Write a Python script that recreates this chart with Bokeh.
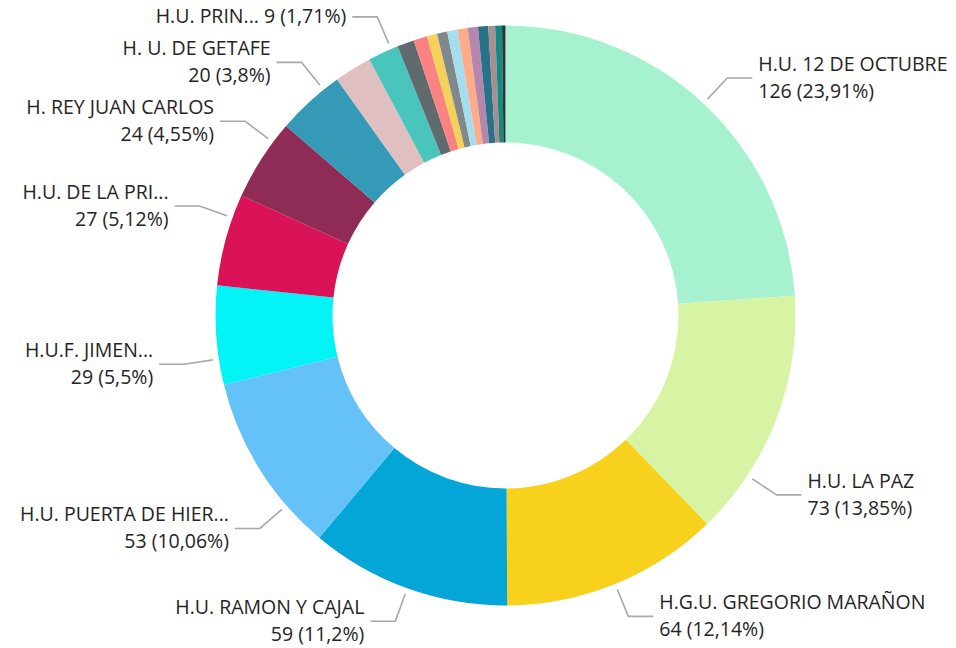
import math
from bokeh.plotting import figure
from bokeh.models import ColumnDataSource, Range1d
from bokeh.core.properties import value
from bokeh.embed import file_html
from bokeh.resources import INLINE

# ---------------- data ----------------
hospitals = [
    "H.U. 12 DE OCTUBRE", "H.U. LA PAZ", "H.G.U. GREGORIO MARAÑON",
    "H.U. RAMON Y CAJAL", "H.U. PUERTA DE HIERRO", "H.U.F. JIMENEZ DIAZ",
    "H.U. DE LA PRINCESA", "H. REY JUAN CARLOS", "H. U. DE GETAFE",
    "OTRO 1", "H.U. PRINCIPE DE ASTURIAS",
    "OTRO 2", "OTRO 3", "OTRO 4", "OTRO 5", "OTRO 6", "OTRO 7",
    "OTRO 8", "OTRO 9", "OTRO 10", "OTRO 11", "OTRO 12",
]
counts = [126, 73, 64, 59, 53, 29, 27, 24, 20,
          11, 9,
          5, 4, 3, 3, 3, 3, 3, 3, 2, 2, 1]
# labels shown on the chart (truncated as displayed); None = no label
shown_labels = [
    "H.U. 12 DE OCTUBRE", "H.U. LA PAZ", "H.G.U. GREGORIO MARAÑON",
    "H.U. RAMON Y CAJAL", "H.U. PUERTA DE HIER...", "H.U.F. JIMEN...",
    "H.U. DE LA PRI...", "H. REY JUAN CARLOS", "H. U. DE GETAFE",
    None, "H.U. PRIN...",
] + [None] * 11

# ---------------- styles / layout ----------------
colors = ["#A6F2D0", "#D7F4A5", "#F7D11B", "#04A5D7", "#64C2F9", "#03F3F7",
          "#DA1257", "#8E2C55", "#3599B8", "#DFBFBF", "#4AC5BB",
          "#5F6B6D", "#FB8281", "#F4D25A", "#7F898A", "#A4DDEE", "#FDAB89",
          "#B687AC", "#28738A", "#A78F8F", "#168980", "#293537"]
label_angle_shift = [0, 12.5, 0, 0, -9, -4.7, 4.5, 4.1, 3.5, 0, 1.7] + [0] * 11
single_line = [False] * 10 + [True] + [False] * 11
R_OUT, R_IN = 290, 173
R_L1, R_L2, H_LEN, GAP = 296, 325, 25, 6
FONT = "Open Sans"
FSIZE = "19.5px"
TXT = "#252423"
LEADER = "#A8A8A8"

W, H = 956, 648
CX, CY = 505, 315  # centre in page pixels

p = figure(width=W, height=H, output_backend="svg", toolbar_location=None,
           x_range=Range1d(-CX, W - CX), y_range=Range1d(CY - H, CY),
           min_border=0, outline_line_color=None, background_fill_color="white")
p.axis.visible = False
p.grid.visible = False

total = sum(counts)
starts, ends = [], []
acc = 0.0
for c in counts:
    a0 = acc / total * 360.0
    acc += c
    a1 = acc / total * 360.0
    starts.append(a0)
    ends.append(a1)

src = ColumnDataSource(dict(
    start=[math.radians(90 - e) for e in ends],
    end=[math.radians(90 - s) for s in starts],
    color=colors[:len(counts)],
))
p.annular_wedge(x=0, y=0, inner_radius=R_IN, outer_radius=R_OUT,
                start_angle="start", end_angle="end", color="color",
                direction="anticlock", line_color=None, source=src)


def fmt_pct(v):
    s = f"{v / total * 100:.2f}".rstrip("0").rstrip(".")
    return s.replace(".", ",")


lxs, lys = [], []
tx_r, ty_r, tt_r = [], [], []
tx_l, ty_l, tt_l = [], [], []
for i, lab in enumerate(shown_labels):
    if lab is None:
        continue
    mid = (starts[i] + ends[i]) / 2 + label_angle_shift[i]
    th = math.radians(mid)
    x1, y1 = R_L1 * math.sin(th), R_L1 * math.cos(th)
    x2, y2 = R_L2 * math.sin(th), R_L2 * math.cos(th)
    right = math.sin(th) > 0
    x3 = x2 + H_LEN if right else x2 - H_LEN
    lxs.append([x1, x2, x3])
    lys.append([y1, y2, y2])
    tx = x3 + GAP if right else x3 - GAP
    second = f"{counts[i]} ({fmt_pct(counts[i])}%)"
    if single_line[i]:
        items = [(y2 + 1, f"{lab} {second}")]
    else:
        items = [(y2 + 14.5, lab), (y2 - 12.5, second)]
    for ty, t in items:
        if right:
            tx_r.append(tx); ty_r.append(ty); tt_r.append(t)
        else:
            tx_l.append(tx); ty_l.append(ty); tt_l.append(t)

p.multi_line(xs=lxs, ys=lys, line_color=LEADER, line_width=1.6)
p.text(x=tx_r, y=ty_r, text=tt_r, text_align="left", text_baseline="alphabetic",
       text_font=value(FONT), text_font_size=FSIZE, text_color=TXT)
p.text(x=tx_l, y=ty_l, text=tt_l, text_align="right", text_baseline="alphabetic",
       text_font=value(FONT), text_font_size=FSIZE, text_color=TXT)

open("out.html", "w").write(file_html(p, INLINE))
